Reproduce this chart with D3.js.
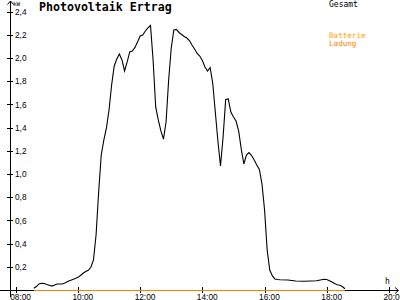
<!DOCTYPE html>
<html>
<head>
<meta charset="utf-8">
<style>
    body { margin: 0; background: #fff; }
    svg { display: block; font-family: 'DejaVu Sans Mono', monospace; }
    .tick text { font-size: 8.3px; fill: #000; }
    .tick line { stroke: #000; }
    .domain { display: none; }
</style>
</head>
<body>
<svg width="400" height="300"></svg>

<script src="https://d3js.org/d3.v7.min.js"></script>
<script>
// Gesamt (kW) every 5 minutes
let times = ["08:35","08:40","08:45","08:50","08:55","09:00","09:05","09:10","09:15","09:20",
    "09:25","09:30","09:35","09:40","09:45","09:50","09:55","10:00","10:05","10:10",
    "10:15","10:20","10:25","10:30","10:35","10:40","10:45","10:50","10:55","11:00",
    "11:05","11:10","11:15","11:20","11:25","11:30","11:35","11:40","11:45","11:50",
    "11:55","12:00","12:05","12:10","12:15","12:20","12:25","12:30","12:35","12:40",
    "12:45","12:50","12:55","13:00","13:05","13:10","13:15","13:20","13:25","13:30",
    "13:35","13:40","13:45","13:50","13:55","14:00","14:05","14:10","14:15","14:20",
    "14:25","14:30","14:35","14:40","14:45","14:50","14:55","15:00","15:05","15:10",
    "15:15","15:20","15:25","15:30","15:35","15:40","15:45","15:50","15:55","16:00",
    "16:05","16:10","16:15","16:20","16:25","16:30","16:45","17:00","17:15","17:30",
    "17:40","17:50","17:55","18:00","18:05","18:10","18:15","18:20","18:25","18:30","18:35"]
let gesamt = [0.015,0.030,0.052,0.058,0.056,0.047,0.041,0.034,0.043,0.052,
    0.052,0.052,0.060,0.073,0.082,0.091,0.099,0.109,0.125,0.144,
    0.159,0.170,0.196,0.259,0.474,0.845,1.164,1.293,1.397,1.552,
    1.767,1.931,1.991,2.034,1.983,1.888,1.966,2.052,2.060,2.091,
    2.138,2.190,2.198,2.233,2.259,2.280,1.983,1.578,1.466,1.371,
    1.300,1.448,1.810,2.086,2.241,2.246,2.220,2.203,2.185,2.172,
    2.151,2.112,2.078,2.039,2.017,1.978,1.922,1.888,1.918,1.784,
    1.534,1.284,1.069,1.319,1.642,1.647,1.534,1.491,1.457,1.371,
    1.216,1.086,1.164,1.185,1.159,1.121,1.078,1.039,0.914,0.690,
    0.345,0.172,0.121,0.095,0.091,0.089,0.086,0.078,0.075,0.078,
    0.080,0.089,0.092,0.091,0.080,0.069,0.056,0.046,0.041,0.030,0.011]

// Batterie Ladung
let ladungTimes = ["08:35","18:35"]
let ladung = [0, 0]

let xTicks = [8, 10, 12, 14, 16, 18, 20]
let xTickLabels = ["08:00","10:00","12:00","14:00","16:00","18:00","20:00"]
let yTicks = [0.2,0.4,0.6,0.8,1.0,1.2,1.4,1.6,1.8,2.0,2.2,2.4]

function hours(s) {
    let p = s.split(":")
    return +p[0] + (+p[1]) / 60
}

let svg = d3.select("svg")

let x = d3.scaleLinear().domain([8, 20]).range([15.7, 389])
let y = d3.scaleLinear().domain([0, 2.4]).range([290, 11.6])

// x axis
let xAxis = svg.append("g")
    .attr("transform", "translate(0,290)")
    .call(d3.axisBottom(x)
        .tickValues(xTicks)
        .tickSize(3)
        .tickPadding(2)
        .tickFormat((d, i) => xTickLabels[i]))
xAxis.selectAll(".tick line").attr("y1", -3).attr("shape-rendering", "crispEdges")
xAxis.selectAll(".tick text")
    .attr("text-anchor", "start")
    .attr("x", -6)
    .attr("dy", null)
    .attr("y", 9.5)

// y axis
let yAxis = svg.append("g")
    .attr("transform", "translate(10,0)")
    .call(d3.axisRight(y)
        .tickValues(yTicks)
        .tickSize(3)
        .tickPadding(2)
        .tickFormat(d => d3.format(".1f")(d).replace(".", ",")))
yAxis.selectAll(".tick line").attr("x1", -3).attr("shape-rendering", "crispEdges")

// axis lines with arrows
svg.append("line")
    .attr("x1", 0).attr("x2", 398)
    .attr("y1", 290.5).attr("y2", 290.5)
    .style("stroke", "#000")
svg.append("path")
    .attr("d", "M395,287.5 L398.5,290.5 L395,293.5")
    .style("fill", "none").style("stroke", "#000")
svg.append("line")
    .attr("x1", 10.5).attr("x2", 10.5)
    .attr("y1", 1).attr("y2", 297)
    .style("stroke", "#000")
svg.append("path")
    .attr("d", "M7.5,4.5 L10.5,1 L13.5,4.5")
    .style("fill", "none").style("stroke", "#000")

svg.append("text")
    .attr("x", 13).attr("y", 6)
    .style("font-size", "6px")
    .text("kW")
svg.append("text")
    .attr("x", 385).attr("y", 284)
    .style("font-size", "8px")
    .text("h")

// title and legend
svg.append("text")
    .attr("x", 39).attr("y", 10.5)
    .style("font-size", "11.6px")
    .style("font-weight", "bold")
    .text("Photovoltaik Ertrag")
svg.append("text")
    .attr("x", 329).attr("y", 7)
    .style("font-size", "8px")
    .text("Gesamt")
svg.append("text")
    .attr("x", 329).attr("y", 38)
    .style("font-size", "7.6px")
    .style("fill", "#ffa500")
    .text("Batterie")
svg.append("text")
    .attr("x", 329).attr("y", 45.5)
    .style("font-size", "7.6px")
    .style("fill", "#ff8000")
    .text("Ladung")

let line = d3.line()
    .x(d => x(hours(d.t)))
    .y(d => y(d.v))

let gesamtData = times.map((t, i) => ({ t: t, v: gesamt[i] }))
let ladungData = ladungTimes.map((t, i) => ({ t: t, v: ladung[i] }))

svg.append("path")
    .attr("d", line(gesamtData))
    .style("fill", "none")
    .style("stroke", "#000")
    .style("stroke-width", "1.1px")

svg.append("path")
    .attr("d", line(ladungData))
    .attr("transform", "translate(0,0.5)")
    .style("fill", "none")
    .style("stroke", "#ff8000")
    .style("stroke-width", "1.2px")
</script>
</body>
</html>
